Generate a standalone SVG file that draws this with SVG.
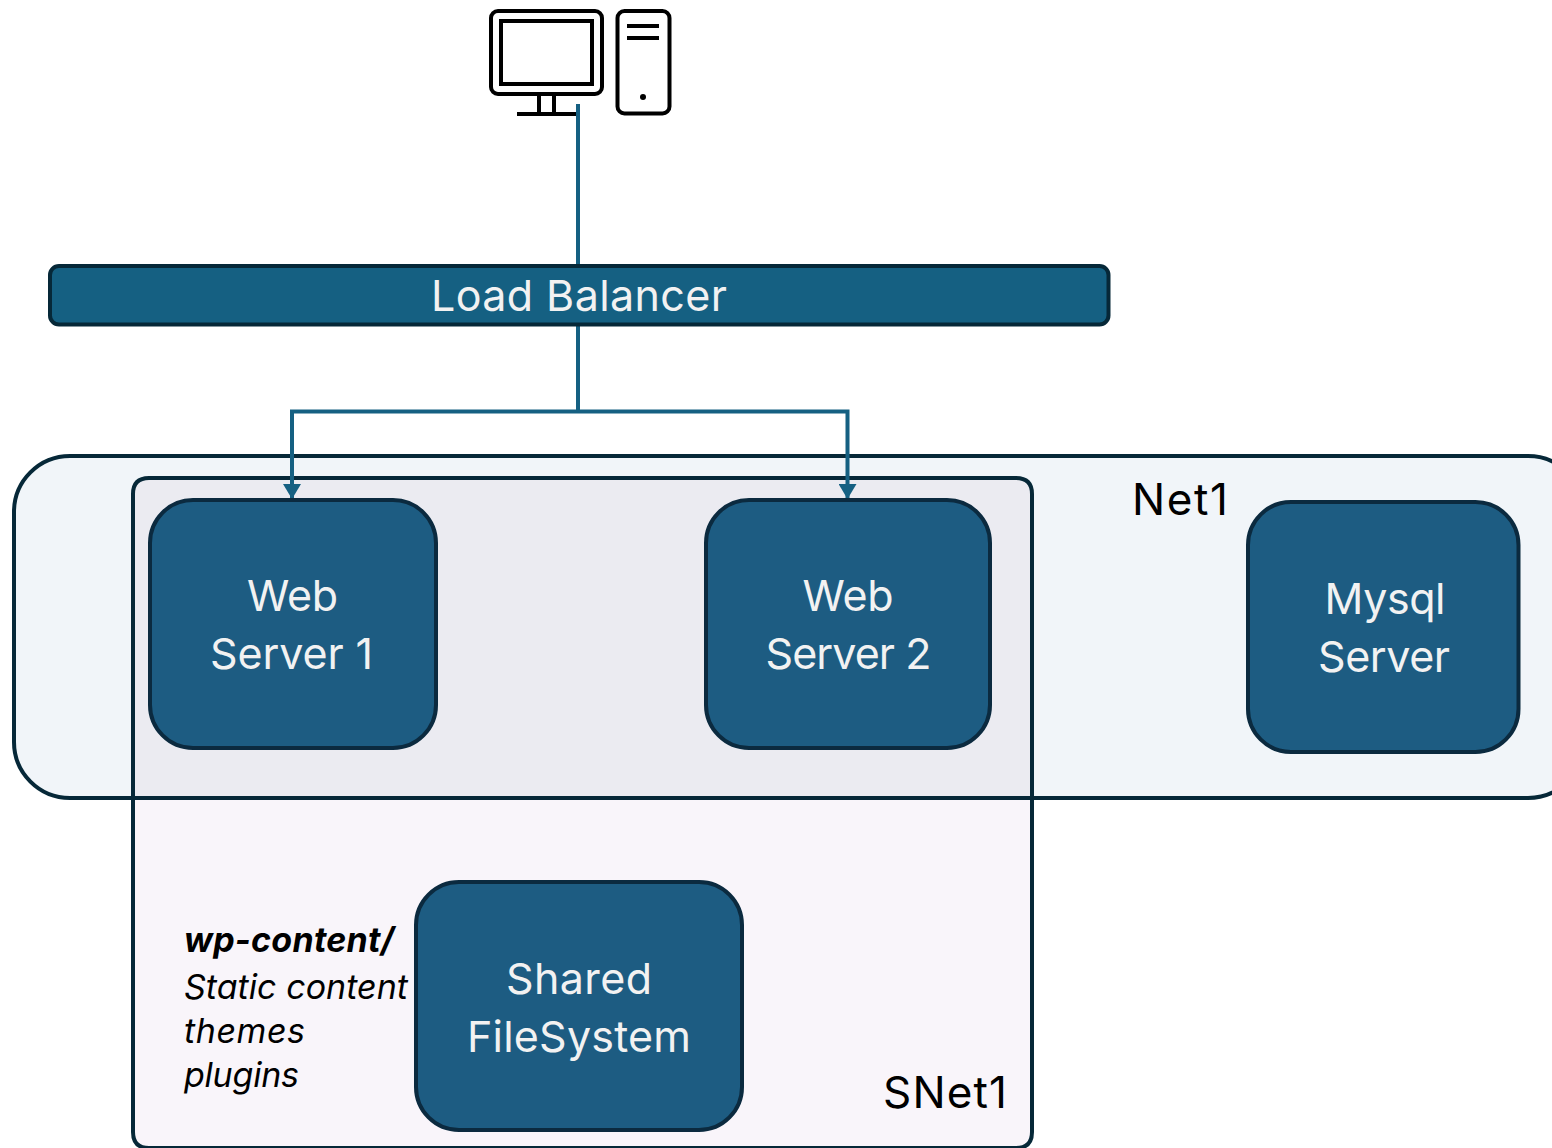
<svg xmlns="http://www.w3.org/2000/svg" width="1552" height="1148" viewBox="0 0 1552 1148">
<style>
text{font-family:Inter,"Noto Sans","Liberation Sans",sans-serif}
.n{fill:#1d5c82;stroke:#0b2a3f;stroke-width:4}
.w{fill:#f2f2f2;font-size:43px;text-anchor:middle}
.l{fill:#000;font-size:44px}
.i{fill:#000;font-size:34px;font-style:italic}
.c{fill:none;stroke:#156082;stroke-width:4}
.k{fill:none;stroke:#000;stroke-width:4}
.o{fill:none;stroke:#062838;stroke-width:4}
</style>
<defs><marker id="a" markerUnits="userSpaceOnUse" markerWidth="16" markerHeight="18" refX="15" refY="9" orient="auto" viewBox="0 0 16 18"><path d="M0 0L15 9L0 18Z" fill="#156082"/></marker></defs>
<rect width="1552" height="1148" fill="#fff"/>
<g id="net1"><rect x="14" y="456" width="1570" height="342" rx="56" class="o" style="fill:#f1f5f9"/></g>
<g id="snet1"><path d="M133 797V494Q133 478 149 478H1016Q1032 478 1032 494V797Z" fill="#ebebf1"/><path d="M133 798V1132Q133 1148 149 1148H1016Q1032 1148 1032 1132V798Z" fill="#f9f5fa"/><path d="M133 1132V494Q133 478 149 478H1016Q1032 478 1032 494V1132Q1032 1148 1016 1148H149Q133 1148 133 1132Z" class="o"/><line x1="133" y1="798" x2="1032" y2="798" class="o"/></g>
<g id="computer"><rect x="491" y="11" width="111" height="83" rx="7" class="k"/><rect x="501" y="21" width="91" height="63" class="k"/><path d="M539 94V113M554 94V113M517 114H577" class="k"/><rect x="617.500" y="11" width="52" height="102.500" rx="7" class="k"/><path d="M627 26H659M627 38H659" class="k"/><circle cx="643" cy="97" r="3" fill="#000"/></g>
<g id="connectors"><path d="M578 104V266" class="c"/><path d="M578 325V411" class="c"/><path d="M578 411.500H292V499" class="c" marker-end="url(#a)"/><path d="M578 411.500H847.500V499" class="c" marker-end="url(#a)"/></g>
<g id="lb"><rect x="50" y="266" width="1058.500" height="58.500" rx="9" class="o" style="fill:#156082"/><text x="579" y="310.500" class="w" textLength="296">Load Balancer</text></g>
<g id="web1"><rect x="150" y="500" width="286" height="248" rx="43" class="n"/><text x="292.500" y="611" class="w" textLength="91">Web</text><text x="291.500" y="669" class="w" textLength="163">Server 1</text></g>
<g id="web2"><rect x="706" y="500" width="284" height="248" rx="43" class="n"/><text x="848" y="611" class="w" textLength="91">Web</text><text x="848.500" y="669" class="w" textLength="166">Server 2</text></g>
<g id="mysql"><rect x="1248" y="502" width="270.500" height="250" rx="43" class="n"/><text x="1385" y="614" class="w" textLength="121">Mysql</text><text x="1384" y="672" class="w" textLength="132">Server</text></g>
<g id="fs"><rect x="416" y="882" width="326" height="248" rx="43" class="n"/><text x="579" y="994" class="w" textLength="146">Shared</text><text x="579" y="1052" class="w" textLength="224">FileSystem</text></g>
<text x="1132" y="515" class="l" textLength="96">Net1</text>
<text x="883" y="1108" class="l" textLength="124">SNet1</text>
<text x="184" y="952" class="i" font-weight="700" textLength="210">wp-content/</text>
<text x="184" y="999" class="i" textLength="224">Static content</text>
<text x="184" y="1043" class="i" textLength="121">themes</text>
<text x="184" y="1087" class="i" textLength="115">plugins</text>
</svg>
